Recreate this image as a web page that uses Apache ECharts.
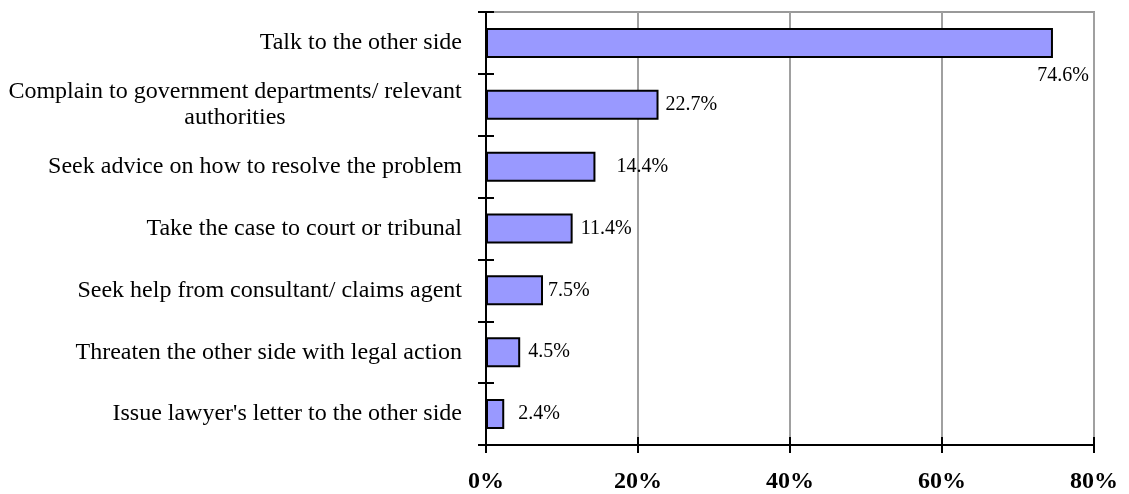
<!DOCTYPE html>
<html>
<head>
<meta charset="utf-8">
<script src="https://cdn.jsdelivr.net/npm/echarts@6/dist/echarts.min.js"></script>
<style>
  html, body { margin: 0; padding: 0; background: #fff; }
  #chart { width: 1129px; height: 494px; }
</style>
</head>
<body>
<div id="chart"></div>
<script>
// categories, top to bottom
const categories = [
  'Talk to the other side',
  'Complain to government departments/ relevant\nauthorities',
  'Seek advice on how to resolve the problem',
  'Take the case to court or tribunal',
  'Seek help from consultant/ claims agent',
  'Threaten the other side with legal action',
  "Issue lawyer's letter to the other side"
];
const values = [74.6, 22.7, 14.4, 11.4, 7.5, 4.5, 2.4];
const ticks = [0, 20, 40, 60, 80];

const FONT = '"Liberation Serif", "Times New Roman", serif';
const CAT_SIZE = 24;

// measure the long label so its second line can be centred under the first
function textWidth(str, size) {
  const ctx = document.createElement('canvas').getContext('2d');
  ctx.font = size + 'px ' + FONT;
  return Math.ceil(ctx.measureText(str).width);
}
const longLine = categories[1].split('\n')[0];
const longW = textWidth(longLine, CAT_SIZE);

// value label gaps as placed in the original (excel drifts a bit)
const labelGap = [0, 7, 21, 8, 5, 8, 14];

const seriesData = values.map(function (v, i) {
  const item = { value: v, label: { distance: labelGap[i] } };
  if (i === 0) {
    // the biggest bar has its label hanging just below its end
    item.label = { position: ['100%', '100%'], align: 'center', verticalAlign: 'top', offset: [10, 8] };
  }
  return item;
});

const chart = echarts.init(document.getElementById('chart'), null, { renderer: 'canvas' });

const catAxisBase = {
  type: 'category',
  data: categories,
  inverse: true,
  position: 'left',
  boundaryGap: true
};

chart.setOption({
  animation: false,
  backgroundColor: '#fff',
  grid: {
    left: 486, right: 35, top: 12, bottom: 49,
    show: true, borderColor: '#999', borderWidth: 2, backgroundColor: 'transparent'
  },
  xAxis: [{
    type: 'value',
    min: ticks[0], max: ticks[ticks.length - 1], interval: 20,
    position: 'bottom',
    axisLine: { show: true, lineStyle: { color: '#000', width: 2 } },
    axisTick: { show: true, length: 8, lineStyle: { color: '#000', width: 2 } },
    splitLine: { show: true, lineStyle: { color: '#a0a0a0', width: 2 } },
    axisLabel: {
      margin: 25,
      fontFamily: FONT, fontSize: 24, fontWeight: 'bold', color: '#000',
      formatter: function (v) { return v + '%'; }
    }
  }, {
    // second copy only for the inward half of the crossing ticks
    type: 'value',
    min: ticks[0], max: ticks[ticks.length - 1], interval: 20,
    position: 'bottom',
    axisLine: { show: false },
    axisTick: { show: true, inside: true, length: 8, lineStyle: { color: '#000', width: 2 } },
    splitLine: { show: false },
    axisLabel: { show: false }
  }],
  yAxis: [Object.assign({}, catAxisBase, {
    axisLine: { show: true, lineStyle: { color: '#000', width: 2 } },
    axisTick: { show: true, length: 8, lineStyle: { color: '#000', width: 2 } },
    axisLabel: {
      margin: 24,
      fontFamily: FONT, fontSize: CAT_SIZE, color: '#000', lineHeight: 26,
      formatter: function (v) {
        if (v.indexOf('\n') < 0) return v;
        return v.split('\n').map(function (s) { return '{c|' + s + '}'; }).join('\n');
      },
      rich: {
        c: { width: longW, align: 'center', fontFamily: FONT, fontSize: CAT_SIZE, color: '#000', lineHeight: 26 }
      }
    }
  }), Object.assign({}, catAxisBase, {
    axisLine: { show: false },
    axisTick: { show: true, inside: true, length: 8, lineStyle: { color: '#000', width: 2 } },
    axisLabel: { show: false }
  })],
  series: [{
    type: 'bar',
    data: seriesData,
    barWidth: 30,
    itemStyle: { color: '#9999ff', borderColor: '#000', borderWidth: 2 },
    label: {
      show: true,
      position: 'right',
      fontFamily: FONT, fontSize: 20, color: '#000',
      formatter: function (p) { return p.value.toFixed(1) + '%'; }
    },
    z: 3
  }]
});
</script>
</body>
</html>
